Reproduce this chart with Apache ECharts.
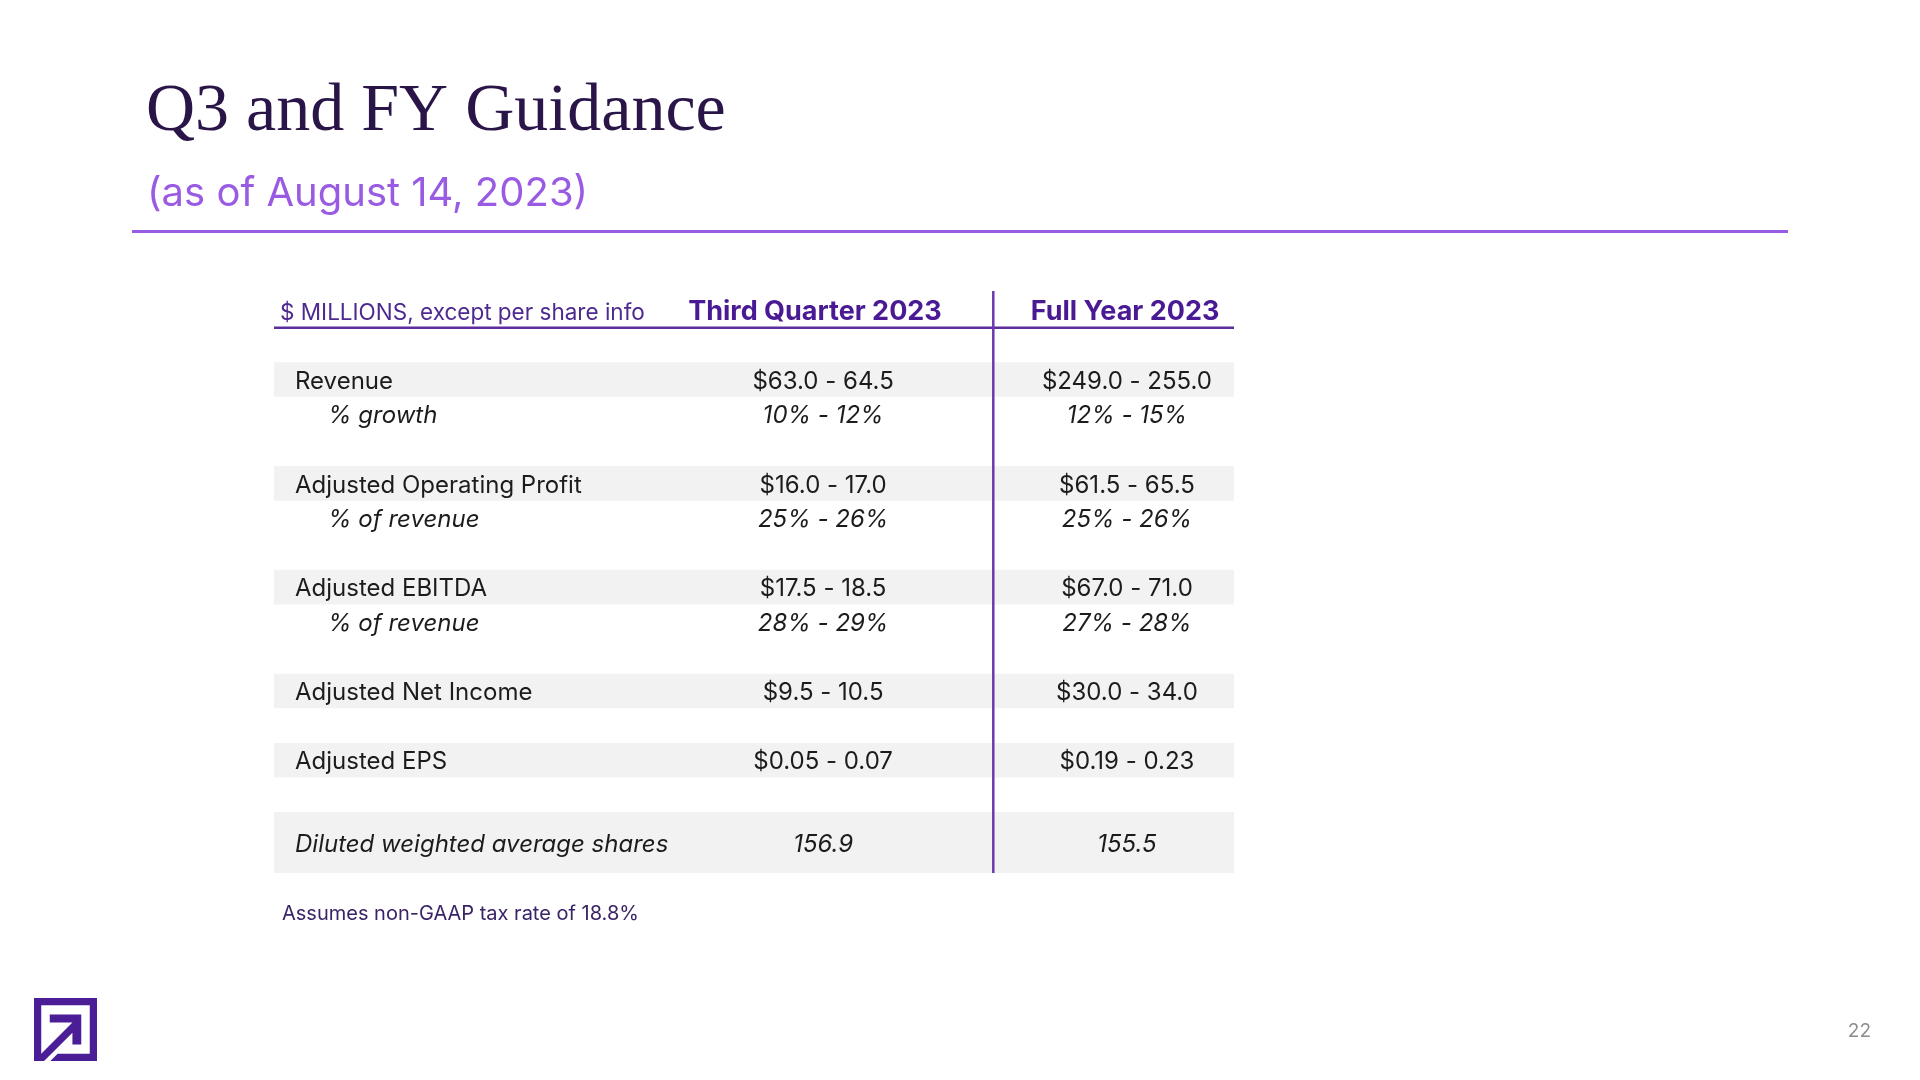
<!DOCTYPE html>
<html>
<head>
<meta charset="utf-8">
<script src="https://cdn.jsdelivr.net/npm/echarts@6/dist/echarts.min.js"></script>
<style>
  html, body { margin: 0; padding: 0; background: #fff; }
  #main { width: 1920px; height: 1080px; }
</style>
</head>
<body>
<div id="main"></div>
<script>
// ---- data ----
const titleText = 'Q3 and FY Guidance';
const subtitleText = '(as of August 14, 2023)';
const columns = ['$ MILLIONS, except per share info', 'Third Quarter 2023', 'Full Year 2023'];
const rowLabels = ['Revenue', '% growth', 'Adjusted Operating Profit', '% of revenue', 'Adjusted EBITDA', '% of revenue', 'Adjusted Net Income', 'Adjusted EPS', 'Diluted weighted average shares'];
const rowKinds = ['main', 'sub', 'main', 'sub', 'main', 'sub', 'main', 'main', 'total'];
const q3Values = ['$63.0 - 64.5', '10% - 12%', '$16.0 - 17.0', '25% - 26%', '$17.5 - 18.5', '28% - 29%', '$9.5 - 10.5', '$0.05 - 0.07', '156.9'];
const fyValues = ['$249.0 - 255.0', '12% - 15%', '$61.5 - 65.5', '25% - 26%', '$67.0 - 71.0', '27% - 28%', '$30.0 - 34.0', '$0.19 - 0.23', '155.5'];
const footNote = 'Assumes non-GAAP tax rate of 18.8%';
const pageNumber = '22';

// row slots: a blank slot before every main row, sub rows follow directly
let slot = 0;
const rowSlots = rowKinds.map(k => { slot += (k === 'sub') ? 1 : 2; return slot; });
const TOTAL_SPAN = 1.76; // last row is taller

const COL_Q3 = 0.572, COL_FY = 0.8885, COL_DIV = 0.749;
const HEAD_Q3 = 0.5635, HEAD_FY = 0.8865;
const FONT = 'Inter, "Noto Sans", sans-serif';
const PURPLE = '#4b1d96';

var chart = echarts.init(document.getElementById('main'));

// logo polygons (unit square)
const logoSize = 63, logoX = 34, logoY = 998;
const lp = pts => pts.map(p => [logoX + p[0] * logoSize, logoY + p[1] * logoSize]);
const t = 0.115;

chart.setOption({
  backgroundColor: '#ffffff',
  animation: false,
  grid: { left: 274, top: 293, width: 960, height: 580 },
  xAxis: { type: 'value', min: 0, max: 1, show: false },
  yAxis: { type: 'value', inverse: true, min: -0.5, max: rowSlots[rowSlots.length - 1] - 0.5 + TOTAL_SPAN, show: false },
  graphic: [
    { type: 'text', x: 146, y: 112, style: { text: titleText, font: 'normal 68px "Liberation Serif", serif', fill: '#2a1549', verticalAlign: 'middle' } },
    { type: 'text', x: 147, y: 194, style: { text: subtitleText, font: 'normal 40px ' + FONT, fill: '#9a5be3', verticalAlign: 'middle' } },
    { type: 'rect', shape: { x: 132, y: 230, width: 1656, height: 3 }, style: { fill: '#9a5be3' } },
    { type: 'text', x: 282, y: 914, style: { text: footNote, font: 'normal 20px ' + FONT, fill: '#3a2366', verticalAlign: 'middle' } },
    { type: 'text', x: 1871, y: 1031, style: { text: pageNumber, font: 'normal 19px ' + FONT, fill: '#8c8c8c', align: 'right', verticalAlign: 'middle' } },
    // logo
    { type: 'rect', shape: { x: logoX, y: logoY, width: logoSize * t, height: logoSize }, style: { fill: PURPLE } },
    { type: 'rect', shape: { x: logoX, y: logoY, width: logoSize, height: logoSize * t }, style: { fill: PURPLE } },
    { type: 'rect', shape: { x: logoX + logoSize * (1 - t), y: logoY, width: logoSize * t, height: logoSize }, style: { fill: PURPLE } },
    { type: 'polygon', shape: { points: lp([[0.26, 1], [0.375, 1 - t], [1, 1 - t], [1, 1]]) }, style: { fill: PURPLE } },
    { type: 'polygon', shape: { points: lp([[0.25, 0.26], [0.75, 0.26], [0.75, 0.74], [0.61, 0.74], [0.61, 0.55], [0.16, 1], [0, 1], [0.61, 0.39], [0.25, 0.39]]) }, style: { fill: PURPLE } }
  ],
  series: [
    {
      // table rows
      type: 'custom',
      silent: true,
      clip: false,
      encode: { x: 0, y: 1 },
      data: rowLabels.map((l, i) => [0, rowSlots[i], i]),
      renderItem: function (params, api) {
        var i = api.value(2);
        var kind = rowKinds[i];
        var cs = params.coordSys;
        var span = kind === 'total' ? TOTAL_SPAN : 1;
        var top = api.coord([0, api.value(1) - 0.5])[1];
        var bottom = api.coord([0, api.value(1) - 0.5 + span])[1];
        var mid = (top + bottom) / 2 + 2;
        var style = kind === 'main' ? 'normal' : 'italic';
        var font = style + ' normal 24px ' + FONT;
        var children = [];
        if (kind !== 'sub') {
          children.push({ type: 'rect', shape: { x: cs.x, y: top, width: cs.width, height: bottom - top }, style: { fill: '#f2f2f2' } });
        }
        children.push({ type: 'text', style: { text: rowLabels[i], x: cs.x + (kind === 'sub' ? 54 : 21), y: mid, font: font, fill: '#1c1c1c', verticalAlign: 'middle' } });
        children.push({ type: 'text', style: { text: q3Values[i], x: cs.x + cs.width * COL_Q3, y: mid, font: font, fill: '#1c1c1c', align: 'center', verticalAlign: 'middle' } });
        children.push({ type: 'text', style: { text: fyValues[i], x: cs.x + cs.width * COL_FY, y: mid, font: font, fill: '#1c1c1c', align: 'center', verticalAlign: 'middle' } });
        return { type: 'group', children: children };
      },
      z: 2
    },
    {
      // header and column divider
      type: 'custom',
      silent: true,
      clip: false,
      encode: { x: 0, y: 1 },
      data: [[0, 0]],
      renderItem: function (params, api) {
        var cs = params.coordSys;
        var top = api.coord([0, -0.5])[1];
        var bottom = api.coord([0, 0.5])[1];
        var mid = (top + bottom) / 2 + 2;
        var divX = cs.x + cs.width * COL_DIV;
        return {
          type: 'group',
          children: [
            { type: 'text', style: { text: columns[0], x: cs.x + 6, y: mid + 1, font: 'normal 22.5px ' + FONT, fill: '#4e2a90', verticalAlign: 'middle' } },
            { type: 'text', style: { text: columns[1], x: cs.x + cs.width * HEAD_Q3, y: mid, font: 'bold 27px ' + FONT, fill: '#4a1a94', align: 'center', verticalAlign: 'middle' } },
            { type: 'text', style: { text: columns[2], x: cs.x + cs.width * HEAD_FY, y: mid, font: 'bold 27px ' + FONT, fill: '#4a1a94', align: 'center', verticalAlign: 'middle' } },
            { type: 'rect', shape: { x: cs.x, y: bottom - 1, width: cs.width, height: 2.5 }, style: { fill: '#5b2d9e' } },
            { type: 'rect', shape: { x: divX - 1, y: top - 2, width: 2.5, height: cs.y + cs.height - top + 2 }, style: { fill: '#6a3aae' } }
          ]
        };
      },
      z: 5
    }
  ]
});
</script>
</body>
</html>
